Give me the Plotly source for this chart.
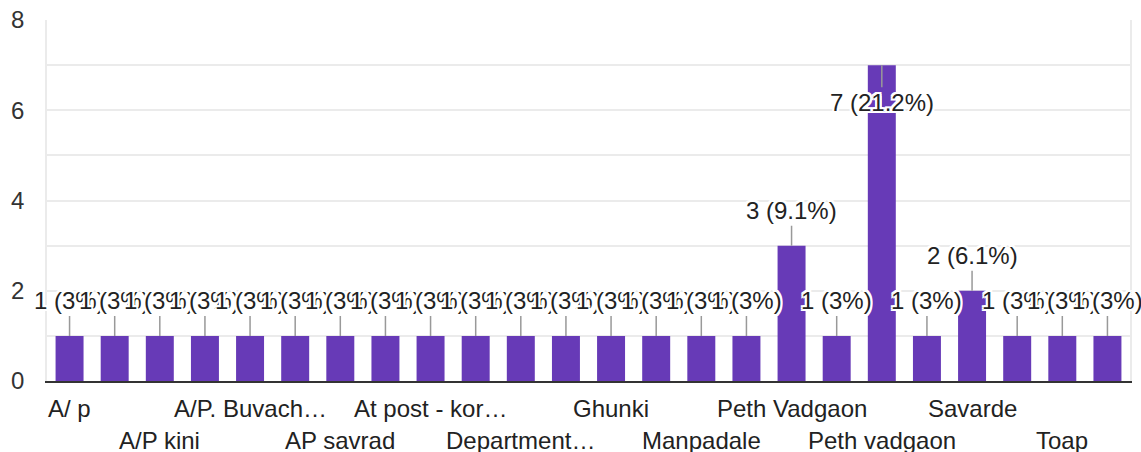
import plotly.graph_objects as go

# Category labels as visible in the chart (only every other label is displayed)
categories = [
    "A/ p", "", "A/P kini", "", "A/P. Buvach…", "", "AP savrad", "",
    "At post - kor…", "", "Department…", "", "Ghunki", "", "Manpadale", "",
    "Peth Vadgaon", "", "Peth vadgaon", "", "Savarde", "", "Toap", "",
]
counts = [1, 1, 1, 1, 1, 1, 1, 1, 1, 1, 1, 1, 1, 1, 1, 1, 3, 1, 7, 1, 2, 1, 1, 1]
pct_labels = ["3%"] * 16 + ["9.1%", "3%", "21.2%", "3%", "6.1%", "3%", "3%", "3%"]
y_tick_vals = [0, 1, 2, 3, 4, 5, 6, 7, 8]
y_tick_text = ["0", "", "2", "", "4", "", "6", "", "8"]

FONT = "Liberation Sans, Arial, sans-serif"
FS = 24
TEXT = "#222222"
HALO = ("-2px -2px 0 white, 2px -2px 0 white, -2px 2px 0 white, 2px 2px 0 white, "
        "0 2px 0 white, 0 -2px 0 white, 2px 0 0 white, -2px 0 0 white")

xs = list(range(len(counts)))

fig = go.Figure()
fig.add_trace(go.Bar(x=xs, y=counts, marker=dict(color="#673ab7", line=dict(width=0)),
                     hoverinfo="skip"))

annotations = []
# data labels with leader lines
for i, (v, p) in enumerate(zip(counts, pct_labels)):
    ay = 37 if v >= 7 else -35
    annotations.append(dict(
        x=i, y=v, xref="x", yref="y", text=f"{v} ({p})",
        showarrow=True, arrowhead=0, arrowwidth=1.5, arrowcolor="#999999",
        ax=0, ay=ay, standoff=0,
        font=dict(family=FONT, size=FS, color=TEXT, shadow=HALO),
    ))
# staggered category labels
row = 0
for i, c in enumerate(categories):
    if not c:
        continue
    annotations.append(dict(
        x=i, y=0, xref="x", yref="y", text=c, showarrow=False,
        yanchor="middle", yshift=-27 if row % 2 == 0 else -59,
        font=dict(family=FONT, size=FS, color=TEXT),
    ))
    row += 1

fig.update_layout(
    width=1141, height=452,
    margin=dict(l=47, r=11, t=20, b=71),
    paper_bgcolor="white", plot_bgcolor="white",
    bargap=0.38, showlegend=False,
    annotations=annotations,
    xaxis=dict(range=[-0.5, len(counts) - 0.5], showticklabels=False, showgrid=False,
               zeroline=False, showline=True, linecolor="#333333", linewidth=2,
               ticks="", automargin=False),
    yaxis=dict(range=[0, 8], tickvals=y_tick_vals, ticktext=y_tick_text,
               showgrid=True, gridcolor="#ebebeb", gridwidth=1.5, zeroline=False,
               showline=True, linecolor="#ebebeb", linewidth=1.5, mirror=True,
               ticks="", ticklabelstandoff=16, automargin=False,
               tickfont=dict(family=FONT, size=FS, color="#333333")),
    font=dict(family=FONT),
)

fig.write_html(
    "out.html",
    config={"displayModeBar": False},
    post_script="document.body.style.margin='0';document.body.style.overflow='hidden';",
)
